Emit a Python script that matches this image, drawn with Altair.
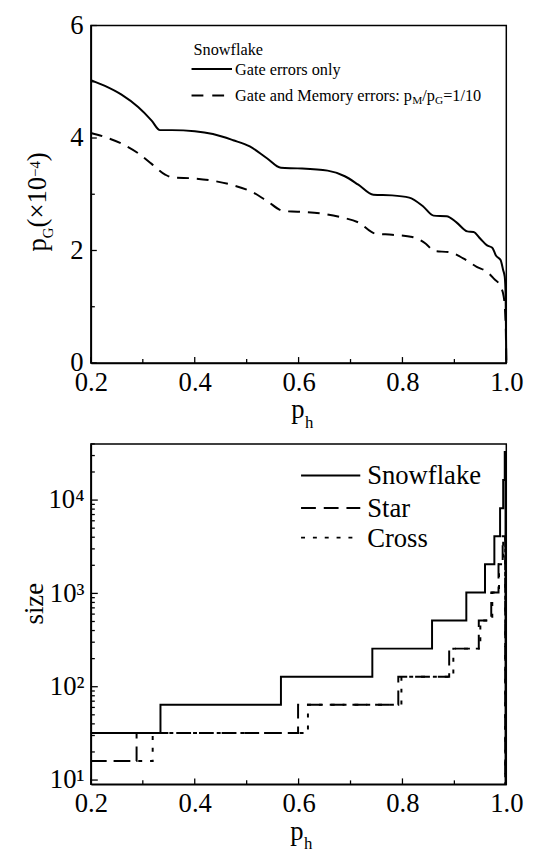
import altair as alt
import pandas as pd

FONT = "Liberation Serif, Times New Roman, Times, serif"

# ---------------- data: top panel (threshold p_G x1e-4 vs p_h) ----------------
gate_x = [0.2, 0.226, 0.259, 0.291, 0.317, 0.333, 0.356, 0.4, 0.435, 0.474, 0.506,
          0.539, 0.566, 0.598, 0.656, 0.689, 0.715, 0.744, 0.78, 0.813, 0.839, 0.86,
          0.885, 0.904, 0.925, 0.937, 0.95, 0.963, 0.973, 0.98, 0.989, 0.994, 0.997,
          0.9987, 1.0]
gate_y = [5.03, 4.93, 4.77, 4.55, 4.31, 4.14, 4.14, 4.12, 4.07, 3.96, 3.85,
          3.64, 3.47, 3.46, 3.42, 3.32, 3.17, 2.99, 2.98, 2.94, 2.79, 2.62,
          2.61, 2.50, 2.34, 2.33, 2.21, 2.09, 2.05, 1.91, 1.83, 1.65, 1.53,
          1.18, 0.0]
mem_x = [0.2, 0.226, 0.259, 0.291, 0.317, 0.343, 0.356, 0.4, 0.435, 0.474, 0.513,
         0.539, 0.572, 0.598, 0.65, 0.682, 0.715, 0.748, 0.78, 0.819, 0.845, 0.861,
         0.891, 0.917, 0.943, 0.963, 0.976, 0.989, 0.995, 0.9987, 1.0]
mem_y = [4.09, 4.02, 3.90, 3.73, 3.54, 3.35, 3.30, 3.28, 3.24, 3.16, 3.03,
         2.88, 2.70, 2.69, 2.65, 2.59, 2.50, 2.30, 2.28, 2.24, 2.12, 1.99,
         1.97, 1.86, 1.71, 1.62, 1.50, 1.36, 1.18, 0.71, 0.0]

# ---------------- data: bottom panel (size vs p_h, step functions) ----------------
snow_x = [0.2, 0.334, 0.566, 0.742, 0.857, 0.923, 0.959, 0.977, 0.988, 0.994, 0.997, 0.9985]
snow_size = [32, 64, 128, 256, 512, 1024, 2048, 4096, 8192, 16384, 32768, 9]
star_x = [0.2, 0.288, 0.599, 0.792, 0.890, 0.947, 0.971, 0.985, 0.993, 0.998]
star_size = [16, 32, 64, 128, 256, 512, 1024, 2048, 4096, 9]
cross_x = [0.2, 0.319, 0.618, 0.798, 0.898, 0.950, 0.973, 0.986, 0.994, 0.998]
cross_size = [16, 32, 64, 128, 256, 512, 1024, 2048, 4096, 9]

# ---------------- axis tick values ----------------
x_major = [0.2, 0.4, 0.6, 0.8, 1.0]
x_minor = [0.3, 0.5, 0.7, 0.9]
pg_major = [0, 2, 4, 6]
pg_minor = [1, 3, 5]
size_major = [10, 100, 1000, 10000]
size_minor = [20, 30, 40, 50, 60, 70, 80, 90,
              200, 300, 400, 500, 600, 700, 800, 900,
              2000, 3000, 4000, 5000, 6000, 7000, 8000, 9000,
              20000, 30000, 40000]

W, H1, H2 = 421, 342, 345
LBL = 27

xs = alt.Scale(domain=[0.2, 1.0], nice=False, zero=False)
ys1 = alt.Scale(domain=[0, 6], nice=False, zero=False)
ys2 = alt.Scale(type="log", domain=[9, 40000], nice=False)

common = dict(labelFont=FONT, labelFontSize=LBL, labelColor="black", ticks=False,
              tickSize=0, domainColor="black", domainWidth=1.5, grid=False,
              title=None, labelOverlap=False, labelFlush=False)
xaxis = alt.Axis(values=x_major, format=".1f", labelPadding=7, **common)
yaxis1 = alt.Axis(values=pg_major, format="d", labelPadding=8, **common)
yaxis2 = alt.Axis(values=size_major, labelPadding=7,
                  labelExpr="datum.value == 10 ? '10\u00b9' : datum.value == 100 ? '10\u00b2' : datum.value == 1000 ? '10\u00b3' : '10\u2074'",
                  **common)


def X(f):
    return alt.X(f"{f}:Q", scale=xs, axis=xaxis)


def Y1(f):
    return alt.Y(f"{f}:Q", scale=ys1, axis=yaxis1)


def Y2(f):
    return alt.Y(f"{f}:Q", scale=ys2, axis=yaxis2)


def txt(s, x, y, size, angle=0, align="left", baseline="alphabetic"):
    return alt.Chart(pd.DataFrame({"t": [s]})).mark_text(
        font=FONT, fontSize=size, angle=angle, align=align, baseline=baseline,
        color="black").encode(x=alt.value(x), y=alt.value(y), text="t:N")


def seg(x1, x2, y, dash=None, w=2):
    kw = dict(color="black", strokeWidth=w)
    if dash:
        kw["strokeDash"] = dash
    return alt.Chart(pd.DataFrame({"a": [0]})).mark_rule(**kw).encode(
        x=alt.value(x1), x2=alt.value(x2), y=alt.value(y))


def xticks(vals, H, L):
    return alt.Chart(pd.DataFrame({"p_h": vals})).mark_rule(color="black", strokeWidth=1.3).encode(
        x=X("p_h"), y=alt.value(H), y2=alt.value(H - L))


def yticks(vals, field, L, Yf):
    return alt.Chart(pd.DataFrame({field: vals})).mark_rule(color="black", strokeWidth=1.3).encode(
        y=Yf(field), x=alt.value(0), x2=alt.value(L))


# ---------------- top panel ----------------
gate_df = pd.DataFrame({"p_h": gate_x, "p_G": gate_y})
mem_df = pd.DataFrame({"p_h": mem_x, "p_G": mem_y})

top_layers = [
    alt.Chart(gate_df).mark_line(color="black", strokeWidth=2, interpolate="monotone").encode(
        x=X("p_h"), y=Y1("p_G")),
    alt.Chart(mem_df).mark_line(color="black", strokeWidth=2, interpolate="monotone",
                                strokeDash=[12, 8]).encode(x=X("p_h"), y=Y1("p_G")),
    xticks(x_major, H1, 6),
    xticks(x_minor, H1, 4),
    yticks(pg_major, "p_G", 6, Y1),
    yticks(pg_minor, "p_G", 4, Y1),
]

# y title: p_G (x10^-4), rotated
yb = -45
yy = 229
pieces = [("p", LBL, 0, 0.5), ("G", 15, 7, 0.722), ("(\u00d710", LBL, 0, 0.333 + 0.564 + 1.0),
          ("\u22124", 15, -7, 0.564 + 0.5), (")", LBL, 0, 0.333)]
for s, fs, dx, wem in pieces:
    top_layers.append(txt(s, yb + dx, yy, fs, angle=270))
    yy -= wem * fs

# x title p_h
top_layers.append(txt("p", 203, 398, LBL))
top_layers.append(txt("h", 217, 408, 17))

# legend
LF = 16.5
SF = 11.5
top_layers.append(txt("Snowflake", 104, 30, LF))
top_layers.append(seg(102, 143, 44))
top_layers.append(txt("Gate errors only", 146, 50, LF))
top_layers.append(seg(102, 135, 71, dash=[12, 9]))
lx = 146
for s, fs, dy, wem in [("Gate and Memory errors: p", LF, 0, 10.886), ("M", SF, 4, 0.889),
                       ("/p", LF, 0, 0.778), ("G", SF, 4, 0.722), ("=1/10", LF, 0, 2.342)]:
    top_layers.append(txt(s, lx, 76 + dy, fs))
    lx += wem * fs

top = alt.layer(*top_layers).properties(width=W, height=H1)

# ---------------- bottom panel ----------------
snow_df = pd.DataFrame({"p_h": snow_x, "size": snow_size})
star_df = pd.DataFrame({"p_h": star_x, "size": star_size})
cross_df = pd.DataFrame({"p_h": cross_x, "size": cross_size})

bot_layers = [
    alt.Chart(star_df).mark_line(color="black", strokeWidth=2, interpolate="step-after",
                                 strokeDash=[15, 8], clip=True).encode(x=X("p_h"), y=Y2("size")),
    alt.Chart(cross_df).mark_line(color="black", strokeWidth=2, interpolate="step-after",
                                  strokeDash=[4, 8], clip=True).encode(x=X("p_h"), y=Y2("size")),
    alt.Chart(snow_df).mark_line(color="black", strokeWidth=2, interpolate="step-after",
                                 clip=True).encode(x=X("p_h"), y=Y2("size")),
    xticks(x_major, H2, 6),
    xticks(x_minor, H2, 4),
    yticks(size_major, "size", 7, Y2),
    yticks(size_minor, "size", 4, Y2),
    txt("size", -49, 162, LBL, angle=270, align="center"),
    txt("p", 202, 401, LBL),
    txt("h", 216, 411, 17),
    seg(213, 273, 32),
    seg(213, 273, 65, dash=[15, 8]),
    seg(213, 273, 95, dash=[4, 8]),
    txt("Snowflake", 280, 41, 27),
    txt("Star", 280, 74, 27),
    txt("Cross", 280, 104, 27),
]
bottom = alt.layer(*bot_layers).properties(width=W, height=H2)

chart = alt.vconcat(top, bottom, spacing=82, bounds="flush").properties(
    padding={"left": 12, "top": -3, "right": 5, "bottom": 5}
).configure_view(stroke="black", strokeWidth=1.5)

chart.save("out.html", embed_options={"renderer": "svg", "actions": False})
